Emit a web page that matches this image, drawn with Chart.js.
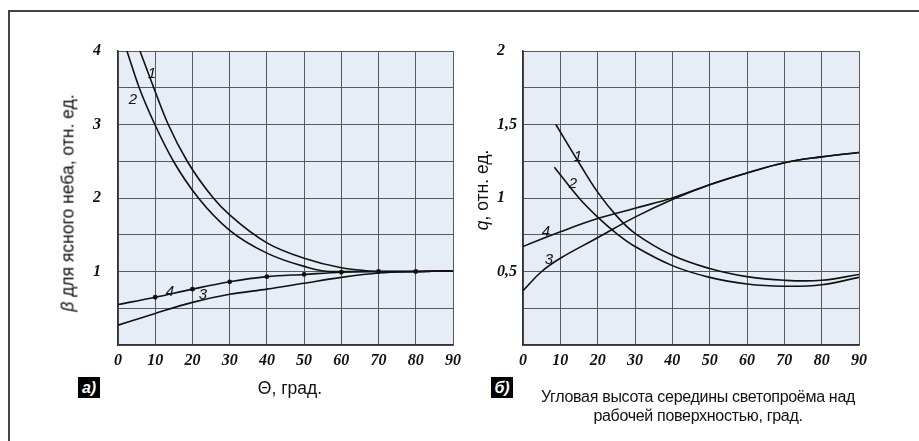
<!DOCTYPE html>
<html lang="ru">
<head>
<meta charset="utf-8">
<title>β и q от угловой высоты</title>
<script src="https://cdn.jsdelivr.net/npm/chart.js@4.4.1/dist/chart.umd.min.js"></script>
<style>
  html, body { margin: 0; padding: 0; background: #fff; }
  body { width: 919px; height: 441px; position: relative; overflow: hidden; font-family: "Liberation Sans", Arial, sans-serif; }
  .frame { position: absolute; left: 8px; top: 10px; right: 0; bottom: 0; border-top: 2px solid #444; border-left: 2px solid #444; }
  canvas { position: absolute; top: 0; }
  #chartA { left: 0; }
  #chartB { left: 460px; }
  .txt { position: absolute; white-space: nowrap; color: #111; font-size: 17.5px; transform: translate(-50%, -50%); }
  .ylab { transform: translate(-50%, -50%) rotate(-90deg); }
  .panel { position: absolute; width: 22px; height: 21px; background: #000; color: #fff; font: italic bold 16px "Liberation Sans", Arial, sans-serif; line-height: 21px; text-align: center; }
  .num { position: absolute; font: italic 15px "Liberation Sans", Arial, sans-serif; color: #111; transform: translate(-50%, -50%); }
</style>
</head>
<body>
<div class="frame"></div>
<canvas id="chartA" width="470" height="441"></canvas>
<canvas id="chartB" width="459" height="441"></canvas>

<div class="txt ylab" style="left:68px; top:203px;"><i>β</i> для ясного неба, отн. ед.</div>
<div class="txt" style="left:290px; top:388px;">Θ, град.</div>
<div class="panel" style="left:78px; top:377px;">а)</div>

<div class="txt ylab" style="left:482px; top:190px;"><i>q</i>, отн. ед.</div>
<div class="txt" style="left:698px; top:397px; font-size:16px; letter-spacing:-0.3px;">Угловая высота середины светопроёма над</div>
<div class="txt" style="left:698px; top:416px; font-size:16px; letter-spacing:-0.3px;">рабочей поверхностью, град.</div>
<div class="panel" style="left:491px; top:377px;">б)</div>

<span class="num" style="left:152px; top:72px;">1</span>
<span class="num" style="left:133px; top:98px;">2</span>
<span class="num" style="left:170px; top:290px;">4</span>
<span class="num" style="left:203px; top:293px;">3</span>
<span class="num" style="left:578px; top:155px;">1</span>
<span class="num" style="left:573px; top:182px;">2</span>
<span class="num" style="left:546px; top:230px;">4</span>
<span class="num" style="left:549px; top:258px;">3</span>

<script>
// ---- данные, панель а) : β для ясного неба ----
const thetaA1 = [5.9, 9.6, 13.5, 18.6, 25.6, 30, 40, 50, 60, 65, 70, 80, 90];
const betaA1 = [4.0, 3.5, 3.0, 2.5, 2.0, 1.77, 1.39, 1.18, 1.05, 1.02, 1.0, 1.0, 1.01];
const thetaA2 = [2.4, 5.7, 9.9, 14.9, 21.6, 30, 40, 50, 57, 70, 80, 90];
const betaA2 = [4.0, 3.5, 3.0, 2.5, 2.0, 1.56, 1.25, 1.07, 1.0, 1.0, 1.0, 1.01];
const thetaA3 = [0, 10, 20, 30, 40, 50, 60, 70, 80, 90];
const betaA3 = [0.27, 0.43, 0.58, 0.69, 0.76, 0.84, 0.92, 0.98, 1.0, 1.01];
const thetaA4 = [0, 10, 20, 30, 40, 50, 60, 70, 80, 90];
const betaA4 = [0.55, 0.65, 0.76, 0.86, 0.93, 0.96, 0.99, 1.0, 1.0, 1.01];

// ---- данные, панель б) : q ----
const thetaB1 = [8.8, 15, 20, 25, 30, 40, 50, 60, 70, 80, 90];
const qB1 = [1.5, 1.24, 1.04, 0.88, 0.76, 0.61, 0.52, 0.465, 0.44, 0.44, 0.48];
const thetaB2 = [8.4, 15, 20, 25, 30, 40, 50, 60, 70, 80, 90];
const qB2 = [1.21, 1.0, 0.87, 0.76, 0.67, 0.54, 0.46, 0.415, 0.4, 0.41, 0.46];
const thetaB3 = [0, 5, 10, 20, 30, 40, 50, 60, 70, 80, 90];
const qB3 = [0.37, 0.5, 0.59, 0.73, 0.87, 0.99, 1.09, 1.17, 1.24, 1.28, 1.31];
const thetaB4 = [0, 10, 20, 30, 40, 50, 60, 70, 80, 90];
const qB4 = [0.67, 0.77, 0.86, 0.93, 1.0, 1.09, 1.17, 1.24, 1.28, 1.31];

// ---- подписи делений ----
const thetaTicks = [0, 10, 20, 30, 40, 50, 60, 70, 80, 90];
const betaTickValues = [1, 2, 3, 4];
const betaTickLabels = ["1", "2", "3", "4"];
const qTickValues = [0.5, 1, 1.5, 2];
const qTickLabels = ["0,5", "1", "1,5", "2"];

const tickFont = { family: "'Liberation Serif', serif", size: 16, weight: "bold", style: "italic" };

const plotBg = {
  id: "plotBg",
  beforeDraw(chart) {
    const { ctx, chartArea: a } = chart;
    ctx.save();
    ctx.fillStyle = "#e6edf6";
    ctx.fillRect(a.left, a.top, a.right - a.left, a.bottom - a.top);
    ctx.restore();
  },
};

function toPoints(xs, ys) {
  return xs.map((x, i) => ({ x: x, y: ys[i] }));
}

function line(xs, ys, smooth, dots) {
  const ds = {
    data: toPoints(xs, ys),
    borderColor: "#111",
    borderWidth: 1.6,
    backgroundColor: "#111",
    pointRadius: dots ? xs.map((x) => (x > 0 && x < 90 ? 1.6 : 0)) : 0,
    fill: false,
  };
  if (smooth === "monotone") ds.cubicInterpolationMode = "monotone";
  else ds.tension = 0.4;
  return ds;
}

function makeChart(id, datasets, yMax, yStep, tickValues, tickLabels, pad, yWidth) {
  return new Chart(document.getElementById(id), {
    type: "line",
    data: { datasets: datasets },
    plugins: [plotBg],
    options: {
      responsive: false,
      animation: false,
      layout: { padding: pad },
      plugins: { legend: { display: false }, tooltip: { enabled: false } },
      scales: {
        x: {
          type: "linear",
          min: 0,
          max: 90,
          afterFit: (s) => { s.height = 30; },
          afterBuildTicks: (s) => { s.ticks = thetaTicks.map((v) => ({ value: v })); },
          ticks: { font: tickFont, color: "#111", padding: 6, maxRotation: 0, callback: (v) => String(v) },
          grid: { color: "#5a5a5a", lineWidth: 1, drawTicks: false },
          border: { color: "#333", width: 1.5 },
        },
        y: {
          min: 0,
          max: yMax,
          afterFit: (s) => { s.width = yWidth; },
          ticks: {
            stepSize: yStep,
            font: tickFont,
            color: "#111",
            crossAlign: "far",
            callback: (v) => {
              const i = tickValues.indexOf(v);
              return i >= 0 ? tickLabels[i] : "";
            },
          },
          grid: { color: "#5a5a5a", lineWidth: 1, drawTicks: false },
          border: { color: "#333", width: 1.5 },
        },
      },
    },
  });
}

makeChart(
  "chartA",
  [
    line(thetaA1, betaA1, "monotone"),
    line(thetaA2, betaA2, "monotone"),
    line(thetaA3, betaA3, "monotone"),
    line(thetaA4, betaA4, "monotone", true),
  ],
  4, 0.5, betaTickValues, betaTickLabels,
  { left: 93, right: 17, top: 51, bottom: 66 }, 25
);

makeChart(
  "chartB",
  [line(thetaB1, qB1), line(thetaB2, qB2), line(thetaB3, qB3), line(thetaB4, qB4)],
  2, 0.25, qTickValues, qTickLabels,
  { left: 37, right: 60, top: 51, bottom: 66 }, 26
);
</script>
</body>
</html>
